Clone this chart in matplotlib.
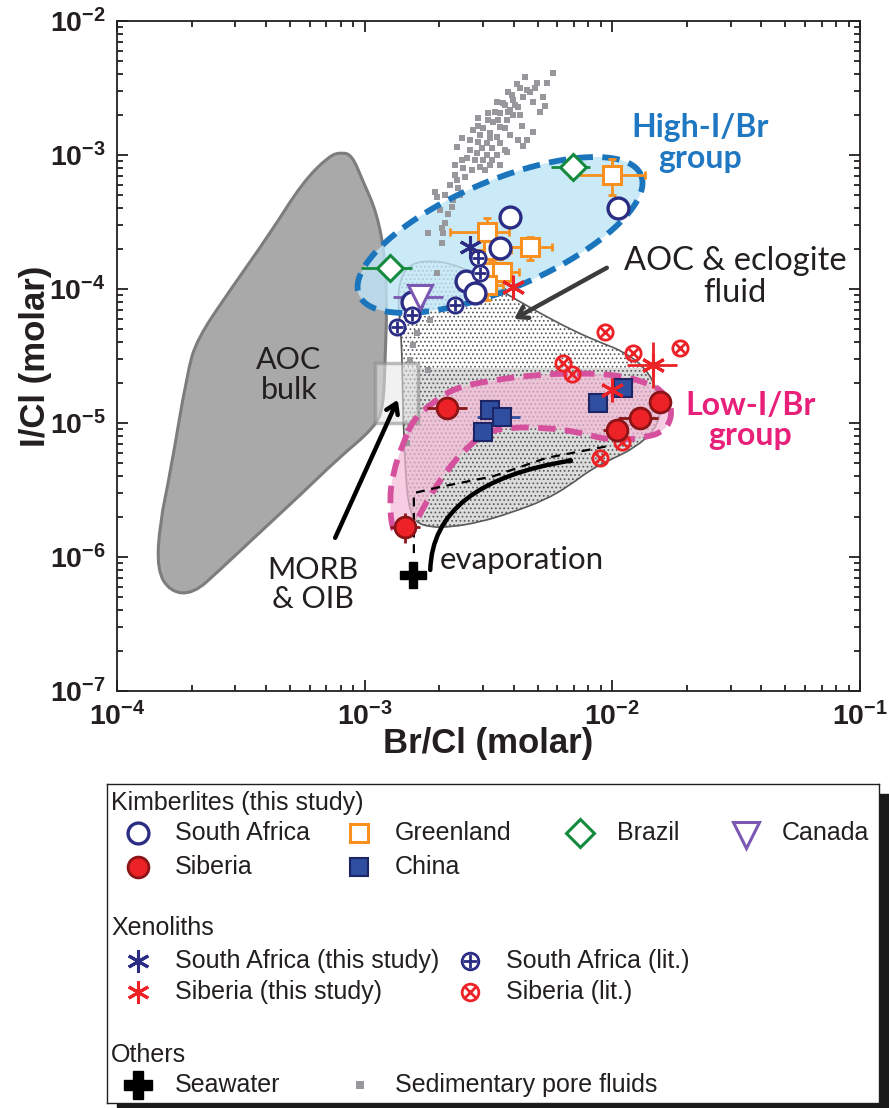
import numpy as np
import matplotlib
matplotlib.use("Agg")
import matplotlib.pyplot as plt
from matplotlib.path import Path
from matplotlib.patches import PathPatch, Rectangle, FancyArrowPatch
from matplotlib.ticker import FuncFormatter

plt.rcParams['font.family'] = ['Liberation Sans', 'DejaVu Sans']
plt.rcParams['mathtext.fontset'] = 'custom'
plt.rcParams['mathtext.rm'] = 'Liberation Sans:bold'
plt.rcParams['mathtext.it'] = 'Liberation Sans:bold'
plt.rcParams['mathtext.bf'] = 'Liberation Sans:bold'
plt.rcParams['hatch.linewidth'] = 0.75

# ---- fields (Br/Cl, I/Cl outlines) ----
aoc_bulk_x = [8.1e-4, 8.9e-4, 9.8e-4, 1.12e-3, 1.21e-3, 1.23e-3, 1.21e-3, 1.19e-3, 1.10e-3,
              7.7e-4, 5.6e-4, 3.5e-4, 2.6e-4, 2.03e-4, 1.64e-4, 1.45e-4, 1.49e-4, 1.64e-4,
              1.92e-4, 2.1e-4, 2.86e-4, 4.15e-4, 5.6e-4, 7.2e-4]
aoc_bulk_y = [1.05e-3, 9.9e-4, 6.5e-4, 3.7e-4, 1.73e-4, 7.3e-5, 3.1e-5, 1.32e-5, 9.3e-6,
              5.3e-6, 3.0e-6, 1.34e-6, 8.0e-7, 5.3e-7, 5.5e-7, 8.0e-7, 1.8e-6, 4.2e-6,
              2.36e-5, 4.2e-5, 9.8e-5, 2.6e-4, 6.2e-4, 9.9e-4]

fluid_x = [1.36e-3, 1.39e-3, 1.48e-3, 1.63e-3, 1.89e-3, 2.21e-3, 2.59e-3, 3.52e-3, 5.10e-3,
           6.93e-3, 8.91e-3, 1.12e-2, 1.36e-2, 1.51e-2, 1.58e-2, 1.49e-2, 1.23e-2, 9.77e-3,
           8.13e-3, 6.75e-3, 5.35e-3, 3.87e-3, 2.92e-3, 2.21e-3, 1.84e-3, 1.60e-3, 1.50e-3,
           1.46e-3, 1.43e-3, 1.42e-3, 1.40e-3]
fluid_y = [8.3e-5, 1.17e-4, 1.44e-4, 1.59e-4, 1.62e-4, 1.55e-4, 1.39e-4, 9.8e-5, 6.6e-5,
           4.9e-5, 4.0e-5, 3.39e-5, 2.57e-5, 1.82e-5, 1.25e-5, 8.9e-6, 6.5e-6, 5.3e-6,
           4.46e-6, 3.44e-6, 2.66e-6, 2.13e-6, 1.82e-6, 1.67e-6, 1.67e-6, 1.82e-6, 2.44e-6,
           4.46e-6, 1.05e-5, 2.49e-5, 4.9e-5]
fluid_split = 2.57e-5

low_x = [1.57e-3, 1.79e-3, 2.27e-3, 3.30e-3, 4.78e-3, 7.19e-3, 1.07e-2, 1.38e-2, 1.58e-2,
         1.74e-2, 1.71e-2, 1.56e-2, 1.38e-2, 1.15e-2, 9.5e-3, 7.19e-3, 5.44e-3, 3.87e-3,
         3.12e-3, 2.59e-3, 2.15e-3, 1.79e-3, 1.63e-3, 1.52e-3, 1.39e-3, 1.29e-3, 1.26e-3,
         1.30e-3, 1.43e-3]
low_y = [1.05e-5, 1.32e-5, 1.82e-5, 2.09e-5, 2.28e-5, 2.36e-5, 2.28e-5, 1.99e-5, 1.76e-5,
         1.32e-5, 1.0e-5, 8.4e-6, 7.9e-6, 7.5e-6, 7.5e-6, 8.6e-6, 9.2e-6, 9.3e-6,
         8.6e-6, 6.6e-6, 4.46e-6, 2.66e-6, 1.89e-6, 1.59e-6, 1.41e-6, 1.59e-6, 2.66e-6,
         4.24e-6, 7.1e-6]

# High-I/Br ellipse: centre and two conjugate semi-axes in decades
high_center = (3.52e-3, 2.53e-4)
high_axis_u = (0.569, 0.448)
high_axis_v = (0.085, -0.371)

morb_box = (1.10e-3, 1.64e-3, 1.0e-5, 2.8e-5)

# ---- sedimentary pore fluids ----
pore_x = [5.75e-3, 4.43e-3, 4.12e-3, 4.97e-3, 5.44e-3, 4.65e-3, 3.79e-3, 5.25e-3, 4.35e-3, 3.97e-3,
          3.42e-3, 3.61e-3, 4.78e-3, 5.35e-3, 4.16e-3, 3.87e-3, 3.15e-3, 3.52e-3, 3.97e-3, 2.86e-3,
          3.75e-3, 3.30e-3, 4.32e-3, 3.52e-3, 3.01e-3, 2.73e-3, 4.78e-3, 3.21e-3, 3.42e-3, 4.16e-3,
          4.52e-3, 2.47e-3, 2.86e-3, 3.12e-3, 3.52e-3, 4.35e-3, 2.98e-3, 3.27e-3, 3.68e-3, 2.36e-3,
          2.84e-3, 3.12e-3, 3.42e-3, 3.75e-3, 2.59e-3, 3.01e-3, 3.27e-3, 2.49e-3, 2.71e-3, 2.92e-3,
          2.32e-3, 2.54e-3, 2.36e-3, 2.38e-3, 1.92e-3, 1.96e-3, 2.25e-3, 2.17e-3, 2.11e-3, 2.05e-3,
          2.07e-3, 1.80e-3, 2.05e-3, 1.96e-3, 1.84e-3, 1.63e-3, 1.57e-3, 1.52e-3, 1.80e-3, 1.48e-3,
          4.24e-3, 3.94e-3, 4.52e-3, 3.68e-3, 4.05e-3, 3.36e-3, 3.79e-3, 4.24e-3, 3.15e-3, 3.45e-3,
          2.86e-3, 3.68e-3, 3.21e-3, 2.92e-3, 2.66e-3, 3.87e-3, 2.66e-3, 3.21e-3, 2.79e-3, 2.47e-3,
          2.32e-3, 3.52e-3, 3.06e-3, 2.21e-3, 2.11e-3, 2.43e-3, 2.27e-3, 2.01e-3, 4.88e-3, 5.10e-3]
pore_y = [4.09e-3, 3.82e-3, 3.39e-3, 3.45e-3, 3.45e-3, 2.95e-3, 2.95e-3, 2.71e-3, 2.71e-3, 2.57e-3,
          2.49e-3, 2.44e-3, 2.49e-3, 2.32e-3, 2.28e-3, 2.17e-3, 2.06e-3, 2.06e-3, 1.99e-3, 1.89e-3,
          1.82e-3, 1.76e-3, 1.65e-3, 1.62e-3, 1.59e-3, 1.54e-3, 1.49e-3, 1.46e-3, 1.36e-3, 1.29e-3,
          1.29e-3, 1.34e-3, 1.25e-3, 1.23e-3, 1.23e-3, 1.17e-3, 1.13e-3, 1.13e-3, 1.09e-3, 1.15e-3,
          1.04e-3, 1.0e-3, 1.0e-3, 1.05e-3, 9.5e-4, 9.2e-4, 9.2e-4, 8.0e-4, 7.7e-4, 8.1e-4,
          7.1e-4, 6.9e-4, 6.5e-4, 5.7e-4, 5.3e-4, 4.9e-4, 4.1e-4, 3.6e-4, 3.1e-4, 2.85e-4,
          2.6e-4, 2.6e-4, 2.2e-4, 1.32e-4, 5.9e-5, 4.7e-5, 3.8e-5, 2.95e-5, 2.49e-5, 7.1e-6,
          3.16e-3, 2.81e-3, 3.06e-3, 2.36e-3, 2.36e-3, 2.09e-3, 2.09e-3, 1.99e-3, 1.82e-3, 1.82e-3,
          1.65e-3, 1.59e-3, 1.34e-3, 1.41e-3, 1.29e-3, 1.41e-3, 1.09e-3, 8.4e-4, 9.2e-4, 9.2e-4,
          8.4e-4, 8.4e-4, 7.7e-4, 5.97e-4, 5.0e-4, 5.0e-4, 4.6e-4, 3.9e-4, 3.16e-3, 2.09e-3]

# ---- kimberlites ----
sa_kimb_x = [3.87e-3, 1.05e-2, 3.52e-3, 2.56e-3, 2.79e-3, 1.55e-3]
sa_kimb_y = [3.44e-4, 4.02e-4, 2.02e-4, 1.15e-4, 9.3e-5, 8.0e-5]

gl_x = [9.95e-3, 4.65e-3, 3.12e-3, 3.30e-3, 3.27e-3, 3.58e-3, 3.12e-3]
gl_y = [7.1e-4, 2.06e-4, 2.66e-4, 1.95e-4, 1.34e-4, 1.34e-4, 1.07e-4]
gl_xerr = [[3.2e-3, 1.1e-3, 0.9e-3, 0.6e-3, 0.5e-3, 0.6e-3, 0.5e-3],
           [3.6e-3, 1.05e-3, 0.7e-3, 0.6e-3, 0.5e-3, 0.6e-3, 0.5e-3]]
gl_yerr = [[2.1e-4, 4e-5, 6e-5, 4e-5, 2.5e-5, 2e-5, 2.4e-5],
           [2.2e-4, 4e-5, 7e-5, 4e-5, 2.5e-5, 2e-5, 2.4e-5]]

br_x = [6.93e-3, 1.26e-3]
br_y = [8.1e-4, 1.44e-4]
br_xerr = [[1.3e-3, 2.9e-4], [1.2e-3, 2.9e-4]]

ca_x = [1.67e-3]
ca_y = [8.7e-5]
ca_xerr = [[3.7e-4], [4.0e-4]]
ca_yerr = [[0.0], [2.0e-5]]

sib_kimb_x = [2.15e-3, 1.46e-3, 1.56e-2, 1.29e-2, 1.04e-2]
sib_kimb_y = [1.29e-5, 1.67e-6, 1.44e-5, 1.09e-5, 8.9e-6]
sib_kimb_xerr = [[3.6e-4, 2.0e-4, 1.5e-3, 2.4e-3, 1.2e-3], [4.4e-4, 2.1e-4, 1.5e-3, 2.4e-3, 1.2e-3]]
sib_kimb_yerr = [[0, 4.0e-7, 0, 0, 0], [0, 4.6e-7, 0, 0, 0]]

cn_x = [3.21e-3, 3.58e-3, 3.01e-3, 8.75e-3, 1.10e-2]
cn_y = [1.25e-5, 1.11e-5, 8.6e-6, 1.41e-5, 1.82e-5]
cn_xerr = [[0, 7.4e-4, 0, 0, 0], [0, 6.6e-4, 0, 0, 0]]

# ---- xenoliths ----
sa_xeno_x = [2.66e-3]
sa_xeno_y = [2.06e-4]
sib_xeno_x = [3.97e-3, 9.95e-3, 1.46e-2]
sib_xeno_y = [1.04e-4, 1.76e-5, 2.71e-5]
sib_xeno_xerr = [[0, 0, 3.1e-3], [0, 0, 3.6e-3]]
sib_xeno_yerr = [[0, 0, 0.89e-5], [0, 0, 1.3e-5]]
sa_lit_x = [2.86e-3, 2.92e-3, 2.32e-3, 1.55e-3, 1.35e-3]
sa_lit_y = [1.70e-4, 1.32e-4, 7.6e-5, 6.4e-5, 5.2e-5]
sib_lit_x = [9.33e-3, 1.21e-2, 1.87e-2, 6.32e-3, 6.87e-3, 8.91e-3, 1.09e-2]
sib_lit_y = [4.78e-5, 3.33e-5, 3.63e-5, 2.81e-5, 2.32e-5, 5.5e-6, 7.2e-6]

seawater_x = [1.57e-3]
seawater_y = [7.3e-7]

evap_x = [1.58e-3, 1.58e-3, 2.01e-3, 3.30e-3, 5.44e-3, 9.5e-3]
evap_y = [1.07e-6, 3.0e-6, 3.33e-6, 4.0e-6, 5.5e-6, 6.7e-6]
evap_arrow = [(1.84e-3, 8.0e-7), (1.88e-3, 3.6e-6), (7.06e-3, 5.3e-6)]

NAVY = '#2b2d84'
RED = '#ec2227'
DARKRED = '#8a1416'
ORANGE = '#f7901e'
GREEN = '#138a3e'
PURPLE = '#7a58b3'
CHINA = '#2f4ea0'
GRAY = '#98989c'
BLUE = '#1b75bc'
MAGENTA = '#d6519d'
TXT = '#231f20'


def smooth_shape(xs, ys):
    # closed quadratic b-spline through the edge midpoints, built in log space
    lx, ly = np.log10(xs), np.log10(ys)
    mx = (lx + np.roll(lx, -1)) / 2
    my = (ly + np.roll(ly, -1)) / 2
    verts = [(mx[-1], my[-1])]
    codes = [Path.MOVETO]
    for i in range(len(lx)):
        verts += [(lx[i], ly[i]), (mx[i], my[i])]
        codes += [Path.CURVE3, Path.CURVE3]
    return Path(10 ** np.array(verts), codes)


def ellipse_shape(center, u, v):
    t = np.linspace(0, 2 * np.pi, 240)
    lx = np.log10(center[0]) + u[0] * np.cos(t) + v[0] * np.sin(t)
    ly = np.log10(center[1]) + u[1] * np.cos(t) + v[1] * np.sin(t)
    return Path(np.column_stack([10 ** lx, 10 ** ly]), closed=True)


fig = plt.figure(figsize=(8.89, 11.08), dpi=100)
ax = fig.add_axes([117 / 889, 1 - 691 / 1108, 743 / 889, 670 / 1108])
ax.set_xscale('log')
ax.set_yscale('log')
ax.set_xlim(1e-4, 1e-1)
ax.set_ylim(1e-7, 1e-2)

# AOC bulk
ax.add_patch(PathPatch(smooth_shape(aoc_bulk_x, aoc_bulk_y), facecolor='#a9a9a9',
                       edgecolor='#7d7d7d', lw=2.2, zorder=1))

# AOC & eclogite fluid (stippled)
fluid_path = smooth_shape(fluid_x, fluid_y)
fluid_face = PathPatch(fluid_path, facecolor='white', edgecolor='none', zorder=2)
ax.add_patch(fluid_face)
band = ax.fill_between([1e-3, 3e-2], 1e-7, fluid_split, color='#dcdcdc', lw=0, zorder=2.1)
band.set_clip_path(fluid_face)
ax.add_patch(PathPatch(fluid_path, facecolor='none', edgecolor='#5a5a5a', hatch='....',
                       lw=1.2, zorder=2.2))

# group fields
high_path = ellipse_shape(high_center, high_axis_u, high_axis_v)
ax.add_patch(PathPatch(high_path, facecolor='#bfe5f7', edgecolor='none', alpha=0.8, zorder=3))
low_path = smooth_shape(low_x, low_y)
ax.add_patch(PathPatch(low_path, facecolor='#f3b9d6', edgecolor='none', alpha=0.7, zorder=3))

# MORB & OIB box
x0, x1, y0, y1 = morb_box
ax.add_patch(Rectangle((x0, y0), x1 - x0, y1 - y0, facecolor='#e6e6e6', alpha=0.55,
                       edgecolor='#8a8a8a', lw=2.5, zorder=3.5))

ax.plot(pore_x, pore_y, 's', ms=5, color=GRAY, mew=0, zorder=4)

ax.add_patch(PathPatch(high_path, facecolor='none', edgecolor=BLUE, lw=4.2,
                       linestyle=(0, (3.0, 1.6)), zorder=4.5))
ax.add_patch(PathPatch(low_path, facecolor='none', edgecolor=MAGENTA, lw=4.2,
                       linestyle=(0, (3.0, 1.6)), zorder=4.5))

# evaporation paths
ax.plot(evap_x, evap_y, color='black', lw=1.6, ls=(0, (4, 3)), zorder=5)
evap_path = Path(evap_arrow, [Path.MOVETO, Path.CURVE3, Path.CURVE3])
ax.add_patch(FancyArrowPatch(path=evap_path, arrowstyle='->,head_length=0.7,head_width=0.45',
                             lw=3.2, color='black', transform=ax.transData, zorder=5))
ax.annotate('', xy=(4.01e-3, 5.97e-5), xytext=(9.5e-3, 1.44e-4),
            arrowprops=dict(arrowstyle='->,head_length=0.7,head_width=0.45', lw=3.2,
                            color='#3c3c3c', shrinkA=0, shrinkB=0), zorder=5)
ax.annotate('', xy=(1.36e-3, 1.49e-5), xytext=(7.6e-4, 1.39e-6),
            arrowprops=dict(arrowstyle='->,head_length=0.7,head_width=0.45', lw=3.2,
                            color='black', shrinkA=0, shrinkB=0), zorder=5)

# error bars
eb = dict(fmt='none', elinewidth=2.0, zorder=6)
ax.errorbar(gl_x, gl_y, xerr=gl_xerr, yerr=gl_yerr, ecolor=ORANGE, capsize=3, capthick=2, **eb)
ax.errorbar(br_x, br_y, xerr=br_xerr, ecolor=GREEN, **eb)
ax.errorbar(ca_x, ca_y, xerr=ca_xerr, yerr=ca_yerr, ecolor=PURPLE, **eb)
ax.errorbar(sib_kimb_x, sib_kimb_y, xerr=sib_kimb_xerr, yerr=sib_kimb_yerr, ecolor=DARKRED, **eb)
ax.errorbar(cn_x, cn_y, xerr=cn_xerr, ecolor=CHINA, **eb)
ax.errorbar(sib_xeno_x, sib_xeno_y, xerr=sib_xeno_xerr, yerr=sib_xeno_yerr, ecolor=RED, **eb)

# markers
ax.plot(sib_lit_x, sib_lit_y, 'o', ms=11, mfc='none', mec=RED, mew=2, zorder=7)
ax.plot(sib_lit_x, sib_lit_y, 'x', ms=7.5, mec=RED, mew=2, zorder=7)
ax.plot(gl_x, gl_y, 's', ms=13, mfc='white', mec=ORANGE, mew=2.2, zorder=7)
ax.plot(br_x, br_y, 'D', ms=13, mfc='white', mec=GREEN, mew=2.2, zorder=7)
ax.plot(sa_kimb_x, sa_kimb_y, 'o', ms=15, mfc='white', mec=NAVY, mew=2.4, zorder=7)
ax.plot(ca_x, ca_y, 'v', ms=17, mfc='white', mec=PURPLE, mew=2.2, zorder=7)
ax.plot(cn_x, cn_y, 's', ms=13, mfc=CHINA, mec='#1d2565', mew=1.5, zorder=7)
ax.plot(sib_kimb_x, sib_kimb_y, 'o', ms=15, mfc=RED, mec=DARKRED, mew=2, zorder=7)
ax.plot(sa_lit_x, sa_lit_y, 'o', ms=11, mfc='white', mec=NAVY, mew=2, zorder=7)
ax.plot(sa_lit_x, sa_lit_y, '+', ms=9, mec=NAVY, mew=2, zorder=7)
ax.plot(sa_xeno_x, sa_xeno_y, marker=(6, 2, 0), ls='none', ms=16, mec=NAVY, mew=2.2, zorder=7)
ax.plot(sib_xeno_x, sib_xeno_y, marker=(6, 2, 0), ls='none', ms=17, mec=RED, mew=2.2, zorder=7)
ax.plot(seawater_x, seawater_y, 'P', ms=19, color='black', zorder=7)

# labels
ann = dict(family=['Lato', 'DejaVu Sans'], ha='center', va='center', zorder=8)
ax.text(2.26e-2, 1.23e-3, 'High-I/Br\ngroup', fontsize=23, fontweight='bold', color='#1f78c1',
        linespacing=1.05, **ann)
ax.text(3.6e-2, 1.05e-5, 'Low-I/Br\ngroup', fontsize=23, fontweight='bold', color='#e8207a',
        linespacing=1.05, **ann)
ax.text(3.13e-2, 1.23e-4, 'AOC & eclogite\nfluid', fontsize=23.5, color=TXT, linespacing=1.1, **ann)
ax.text(4.94e-4, 2.28e-5, 'AOC\nbulk', fontsize=22, color=TXT, linespacing=1.05, **ann)
ax.text(6.18e-4, 6.2e-7, 'MORB\n& OIB', fontsize=22, color=TXT, linespacing=1.05, **ann)
ax.text(2.01e-3, 9.5e-7, 'evaporation', fontsize=22.5, color=TXT, family=['Lato', 'DejaVu Sans'],
        ha='left', va='center', zorder=8)

decade_fmt = FuncFormatter(lambda v, pos: r'$\mathbf{10^{%d}}$' % round(np.log10(v)))
ax.xaxis.set_major_formatter(decade_fmt)
ax.yaxis.set_major_formatter(decade_fmt)
ax.set_xlabel('Br/Cl (molar)', fontsize=25, fontweight='bold', color=TXT, labelpad=-3)
ax.set_ylabel('I/Cl (molar)', fontsize=25, fontweight='bold', color=TXT, labelpad=-2)
ax.tick_params(which='both', direction='in', top=True, right=True, width=1.3, colors=TXT)
ax.tick_params(which='major', length=8, labelsize=20.5, pad=8)
ax.tick_params(which='minor', length=4.5)
for sp in ax.spines.values():
    sp.set_linewidth(1.3)
    sp.set_color(TXT)

# ---- legend box (pixel units) ----
fig.add_artist(Rectangle((117 / 889, 1 - 1113 / 1108), 772 / 889, 319 / 1108,
                         transform=fig.transFigure, color='#1a1a1a', zorder=1))
lax = fig.add_axes([107 / 889, 1 - 1103 / 1108, 772 / 889, 319 / 1108])
lax.set_zorder(2)
lax.set_xlim(107, 879)
lax.set_ylim(1103, 784)
lax.set_xticks([])
lax.set_yticks([])
for sp in lax.spines.values():
    sp.set_linewidth(1.0)
    sp.set_color(TXT)

lt = dict(fontsize=18, color=TXT, va='center', ha='left')
lax.text(111, 803, 'Kimberlites (this study)', **lt)
lax.text(111, 928, 'Xenoliths', **lt)
lax.text(111, 1055, 'Others', **lt)

lax.plot(138, 833, 'o', ms=15, mfc='white', mec=NAVY, mew=2.4)
lax.text(175, 833, 'South Africa', **lt)
lax.plot(138, 867, 'o', ms=15, mfc=RED, mec=DARKRED, mew=2)
lax.text(175, 867, 'Siberia', **lt)
lax.plot(359, 833, 's', ms=13, mfc='white', mec=ORANGE, mew=2.2)
lax.text(395, 833, 'Greenland', **lt)
lax.plot(359, 867, 's', ms=13, mfc=CHINA, mec='#1d2565', mew=1.5)
lax.text(395, 867, 'China', **lt)
lax.plot(580, 833, 'D', ms=14, mfc='white', mec=GREEN, mew=2.2)
lax.text(617, 833, 'Brazil', **lt)
lax.plot(746, 835, 'v', ms=19, mfc='white', mec=PURPLE, mew=2.2)
lax.text(782, 833, 'Canada', **lt)

lax.plot(138, 961, marker=(6, 2, 0), ms=16, mec=NAVY, mew=2.2)
lax.text(175, 961, 'South Africa (this study)', **lt)
lax.plot(138, 992, marker=(6, 2, 0), ms=16, mec=RED, mew=2.2)
lax.text(175, 992, 'Siberia (this study)', **lt)
lax.plot(470, 961, 'o', ms=12, mfc='white', mec=NAVY, mew=2)
lax.plot(470, 961, '+', ms=10, mec=NAVY, mew=2)
lax.text(506, 961, 'South Africa (lit.)', **lt)
lax.plot(470, 992, 'o', ms=12, mfc='none', mec=RED, mew=2)
lax.plot(470, 992, 'x', ms=8, mec=RED, mew=2)
lax.text(506, 992, 'Siberia (lit.)', **lt)

lax.plot(138, 1085, 'P', ms=20, color='black')
lax.text(175, 1085, 'Seawater', **lt)
lax.plot(360, 1085, 's', ms=6, color=GRAY, mew=0)
lax.text(395, 1085, 'Sedimentary pore fluids', **lt)

fig.savefig('out.png', dpi=100)
